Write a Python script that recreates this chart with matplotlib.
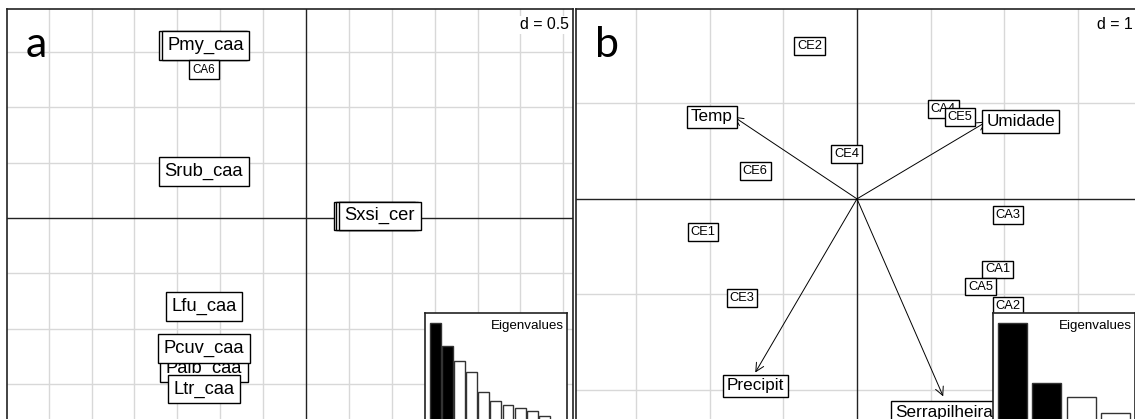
import matplotlib
matplotlib.use('Agg')
import numpy as np
import matplotlib.pyplot as plt
from matplotlib import font_manager as fm

# panel a: species scores (duplicated names = overlapping points)
labels_a = ['Pmy_caa', 'Pmy_caa', 'CA6', 'Srub_caa', 'Sxsi_cer', 'Sxsi_cer', 'Sxsi_cer',
            'Lfu_caa', 'Palb_caa', 'Pcuv_caa', 'Ltr_caa']
x_a = [-1.20, -1.17, -1.19, -1.19, 0.80, 0.83, 0.86, -1.19, -1.19, -1.19, -1.19]
y_a = [1.56, 1.56, 1.34, 0.42, 0.02, 0.02, 0.02, -0.80, -1.36, -1.18, -1.55]
big_a = [True, True, False, True, True, True, True, True, True, True, True]
eig_a = [98, 75, 60, 49, 29, 20, 16, 13, 10, 5]

# panel b: environmental arrows and sites
arrow_names = ['Temp', 'Umidade', 'Precipit', 'Serrapilheira']
arrow_x = [-1.67, 1.76, -1.38, 1.17]
arrow_y = [0.86, 0.81, -1.82, -2.07]
arrow_lab_x = [-1.97, 2.22, -1.38, 1.18]
arrow_lab_y = [0.86, 0.81, -1.96, -2.24]
sites_b = ['CE2', 'CE4', 'CE6', 'CA4', 'CE5', 'CA3', 'CE1', 'CE3', 'CA1', 'CA5', 'CA2']
site_x = [-0.64, -0.14, -1.38, 1.17, 1.40, 2.05, -2.09, -1.56, 1.91, 1.68, 2.05]
site_y = [1.60, 0.47, 0.29, 0.94, 0.86, -0.17, -0.35, -1.04, -0.74, -0.92, -1.12]
eig_b = [98, 38, 24, 8]

# narrow font if there is one, otherwise shrink the regular one a bit
names = {f.name for f in fm.fontManager.ttflist}
if 'Liberation Sans Narrow' in names:
    FONT = ['Liberation Sans Narrow', 'DejaVu Sans']
    SHRINK = 1.0
else:
    FONT = ['Liberation Sans', 'DejaVu Sans']
    SHRINK = 0.88

W, H = 1135, 419
fig = plt.figure(figsize=(W / 100, H / 100), dpi=100)


def px_axes(left, top, right, bottom):
    return fig.add_axes([left / W, (H - bottom) / H, (right - left) / W, (bottom - top) / H])


def base_panel(ax, xlim, ylim, step, dtext):
    ax.set_xlim(*xlim)
    ax.set_ylim(*ylim)
    for v in np.arange(0, xlim[1], step)[1:]:
        ax.axvline(v, color='#d8d8d8', lw=1, zorder=0)
    for v in np.arange(0, xlim[0], -step)[1:]:
        ax.axvline(v, color='#d8d8d8', lw=1, zorder=0)
    for v in np.arange(0, ylim[1], step)[1:]:
        ax.axhline(v, color='#d8d8d8', lw=1, zorder=0)
    for v in np.arange(0, ylim[0], -step)[1:]:
        ax.axhline(v, color='#d8d8d8', lw=1, zorder=0)
    ax.axvline(0, color='#222222', lw=1, zorder=1)
    ax.axhline(0, color='#222222', lw=1, zorder=1)
    ax.set_xticks([])
    ax.set_yticks([])
    for s in ax.spines.values():
        s.set_linewidth(1.2)
        s.set_color('#222222')
    ax.text(0.992, 0.962, dtext, transform=ax.transAxes, ha='right', va='center',
            fontsize=13 * SHRINK, family=FONT, zorder=5,
            bbox=dict(boxstyle='square,pad=0.1', fc='white', ec='none'))


def eigen_inset(left, top, right, bottom, vals, xlim, width, nsel):
    ins = px_axes(left, top, right, bottom)
    cols = ['black' if i < nsel else 'white' for i in range(len(vals))]
    ins.bar(range(len(vals)), vals, width=width, color=cols, edgecolor='#333333', lw=1)
    ins.set_xlim(*xlim)
    ins.set_ylim(0, 108)
    ins.set_xticks([])
    ins.set_yticks([])
    for s in ins.spines.values():
        s.set_linewidth(1.2)
        s.set_color('#222222')
    ins.text(0.975, 0.88, 'Eigenvalues', transform=ins.transAxes, ha='right', va='center',
             fontsize=11 * SHRINK, family=FONT)


# ---- panel a
ax1 = px_axes(7, 9, 573, 425)
base_panel(ax1, (-3.485, 3.112), (-1.872, 1.89), 0.5, 'd = 0.5')
for lab, x, y, big in zip(labels_a, x_a, y_a, big_a):
    fs = 15 if big else 9.5
    ax1.text(x, y, lab, ha='center', va='center', fontsize=fs * SHRINK, family=FONT, zorder=4,
             bbox=dict(boxstyle='square,pad=0.3', fc='white', ec='black', lw=1))
eigen_inset(425, 313, 567, 421, eig_a, (-0.86, 10.88), 0.9, 2)

# ---- panel b
ax2 = px_axes(576, 9, 1137, 425)
base_panel(ax2, (-3.813, 3.80), (-2.37, 1.99), 1.0, 'd = 1')
for x, y in zip(arrow_x, arrow_y):
    ax2.annotate('', xy=(x, y), xytext=(0, 0),
                 arrowprops=dict(arrowstyle='->', lw=0.7, color='black',
                                 shrinkA=0, shrinkB=0, mutation_scale=15), zorder=3)
for lab, x, y in zip(arrow_names, arrow_lab_x, arrow_lab_y):
    ax2.text(x, y, lab, ha='center', va='center', fontsize=14 * SHRINK, family=FONT, zorder=4,
             bbox=dict(boxstyle='square,pad=0.22', fc='white', ec='black', lw=1))
for lab, x, y in zip(sites_b, site_x, site_y):
    ax2.text(x, y, lab, ha='center', va='center', fontsize=10.5 * SHRINK, family=FONT, zorder=4,
             bbox=dict(boxstyle='square,pad=0.22', fc='white', ec='black', lw=1))
eigen_inset(993, 313, 1135, 421, eig_b, (-0.57, 3.57), 0.85, 2)

# panel letters
fig.text(36 / W, 1 - 45 / H, 'a', ha='center', va='center', fontsize=31, family='Lato')
fig.text(607 / W, 1 - 45 / H, 'b', ha='center', va='center', fontsize=31, family='Lato')

fig.savefig('out.png', dpi=100)
